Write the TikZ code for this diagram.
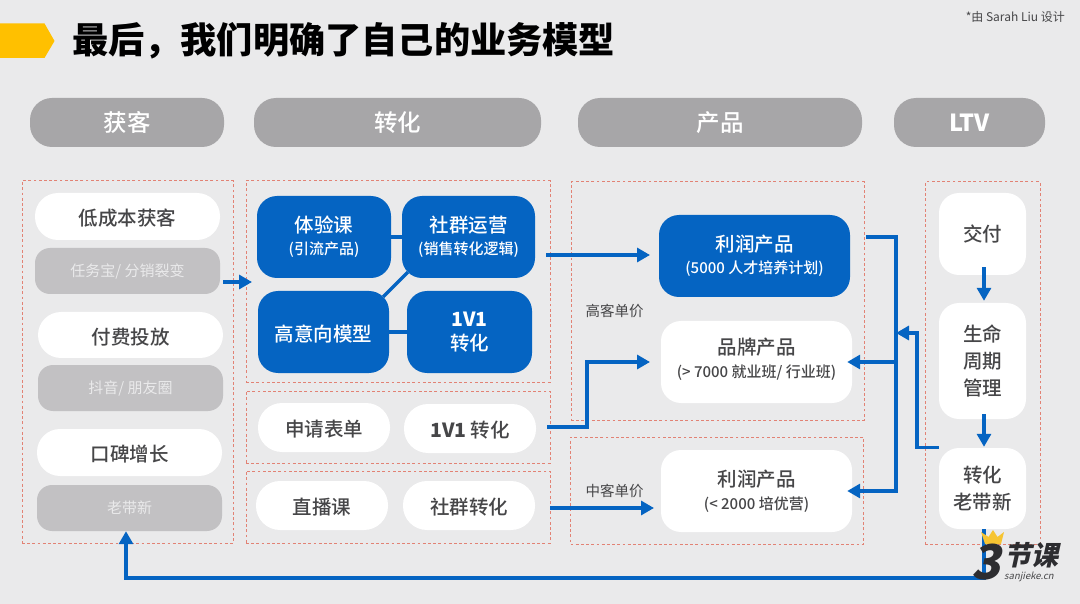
\documentclass[tikz,border=0pt]{standalone}
\usepackage{fontspec}
\setmainfont{Noto Sans CJK SC}
\newfontfamily\medfont{Noto Sans CJK SC Medium}
\newfontfamily\logofont[FakeSlant=0.22]{Noto Sans CJK SC Black}
\newfontfamily\urlfont[FakeSlant=0.22]{Noto Sans CJK SC}
\usetikzlibrary{arrows.meta}
\definecolor{pagegrey}{RGB}{234,234,235}
\definecolor{pillgrey}{RGB}{167,166,168}
\definecolor{softgrey}{RGB}{194,193,195}
\definecolor{planblue}{RGB}{5,100,194}
\definecolor{framered}{RGB}{226,130,116}
\definecolor{inkgrey}{RGB}{70,70,72}
\definecolor{markyellow}{RGB}{255,192,0}
\definecolor{crownyellow}{RGB}{246,196,50}
\definecolor{logoink}{RGB}{45,45,48}
\newcommand{\subline}[1]{{\fontsize{15}{20}\selectfont #1}}
\newcommand{\latinbold}[1]{{\normalfont\bfseries #1}}
\tikzset{
    headpill/.style={
        fill=pillgrey,rounded corners=22pt,inner sep=0pt,minimum height=49pt,
        text=white,font=\fontsize{23.5}{28}\medfont
    },
    groupframe/.style={
        draw=framered,line width=1pt,dash pattern=on 2.8pt off 2.4pt,
        inner sep=0pt
    },
    bluebox/.style={
        fill=planblue,rounded corners=20pt,inner sep=0pt,align=center,
        text=white,font=\fontsize{19.5}{24}\medfont,
        execute at begin node=\vspace*{3pt}
    },
    whitebox/.style={
        fill=white,rounded corners=20pt,inner sep=0pt,align=center,
        text=inkgrey,font=\fontsize{19.5}{27}\medfont,
        execute at begin node=\vspace*{3pt}
    },
    oneline/.style={
        text height=20.5pt
    },
    softbox/.style={
        fill=softgrey,rounded corners=15pt,inner sep=0pt,minimum width=185pt,minimum height=46pt,
        text=pagegrey,font=\fontsize{15}{18}\selectfont
    },
    flow/.style={
        -{Triangle[length=13pt,width=14pt]},line width=3.2pt,draw=planblue
    },
    tie/.style={
        line width=3.2pt,draw=planblue
    },
    priceline/.style={
        text=inkgrey,inner sep=0pt,font=\fontsize{14.5}{18}\selectfont
    }
}

\begin{document}
\begin{tikzpicture}[x=1pt,y=-1pt]

\fill[pagegrey] (0,0) rectangle (1080,604);

\fill[markyellow] (0,23.5)--(44.5,23.5)--(54.5,41)--(44.5,58)--(0,58)--cycle;
\node[anchor=west,inner sep=0pt,font=\fontsize{36.2}{40}\selectfont\bfseries,text=black]
(title) at (72,41) {最后，我们明确了自己的业务模型};
\node[anchor=east,inner sep=0pt,text=inkgrey,font=\fontsize{12}{14}\selectfont]
(credit) at (1065,17) {*由 Sarah Liu 设计};

\node[headpill,minimum width=194pt] (hacq) at (127,122.5) {获客};
\node[headpill,minimum width=287pt] (hconv) at (397.5,122.5) {转化};
\node[headpill,minimum width=284pt] (hprod) at (720,122.5) {产品};
\node[headpill,minimum width=151pt] (hltv) at (969.5,122.5) {\latinbold{LTV}};

\node[groupframe,minimum width=211pt,minimum height=362pt] (facq) at (127.5,362) {};
\node[groupframe,minimum width=304pt,minimum height=201pt] (fmain) at (398,281.5) {};
\node[groupframe,minimum width=304pt,minimum height=72pt] (fapply) at (398,427) {};
\node[groupframe,minimum width=304pt,minimum height=72pt] (flive) at (398,507) {};
\node[groupframe,minimum width=293pt,minimum height=238pt] (fhigh) at (717.5,301) {};
\node[groupframe,minimum width=293pt,minimum height=107pt] (fmid) at (717,490.5) {};
\node[groupframe,minimum width=115pt,minimum height=362pt] (fltv) at (982.5,363) {};

\node[whitebox,oneline,rounded corners=23pt,minimum width=185pt,minimum height=47pt] (lowcost) at (127.5,216.5) {低成本获客};
\node[softbox] (lowsub) at (127.5,271) {任务宝/ 分销裂变};
\node[whitebox,oneline,rounded corners=23pt,minimum width=185pt,minimum height=46pt] (paid) at (130.5,335) {付费投放};
\node[softbox] (paidsub) at (130.5,388) {抖音/ 朋友圈};
\node[whitebox,oneline,rounded corners=23pt,minimum width=185pt,minimum height=47pt] (word) at (129.5,452.5) {口碑增长};
\node[softbox] (wordsub) at (129.5,508) {老带新};

\node[bluebox,minimum width=134pt,minimum height=82pt] (trial) at (324,237) {体验课\\[-2pt]\subline{(引流产品)}};
\node[bluebox,minimum width=133pt,minimum height=82pt] (community) at (468.5,237) {社群运营\\[-2pt]\subline{(销售转化逻辑)}};
\node[bluebox,oneline,minimum width=131pt,minimum height=82pt] (model) at (323.5,332) {高意向模型};
\node[bluebox,minimum width=125pt,minimum height=82pt] (oneone) at (469.5,332) {\latinbold{1V1}\\转化};

\node[whitebox,oneline,rounded corners=24pt,minimum width=132pt,minimum height=49pt] (form) at (324,427.5) {申请表单};
\node[whitebox,oneline,rounded corners=24pt,minimum width=132pt,minimum height=49pt] (oneconv) at (470,428.5) {\latinbold{1V1} 转化};
\node[whitebox,oneline,rounded corners=24pt,minimum width=132pt,minimum height=49pt] (live) at (322,505.5) {直播课};
\node[whitebox,oneline,rounded corners=24pt,minimum width=132pt,minimum height=49pt] (groupconv) at (469,505.5) {社群转化};

\node[bluebox,minimum width=191pt,minimum height=82pt] (talent) at (754.5,256) {利润产品\\[-2pt]\subline{(5000 人才培养计划)}};
\node[whitebox,text depth=9pt,minimum width=191pt,minimum height=82pt] (brand) at (756.5,362) {品牌产品\\[-4pt]\subline{(> 7000 就业班/ 行业班)}};
\node[whitebox,minimum width=191pt,minimum height=82pt] (camp) at (756.5,491) {利润产品\\[-4pt]\subline{(< 2000 培优营)}};

\node[priceline] (high) at (614.5,311) {高客单价};
\node[priceline] (mid) at (614.5,491) {中客单价};

\node[whitebox,minimum width=87pt,minimum height=82pt] (deliver) at (982.5,234) {交付};
\node[whitebox,minimum width=87pt,minimum height=116pt] (cycle) at (982.5,361) {生命\\周期\\管理};
\node[whitebox,minimum width=87pt,minimum height=81pt] (refer) at (982.5,488.5) {转化\\老带新};

\draw[tie] (trial) -- (community);
\draw[tie] (model) -- (oneone);
\draw[tie] ([shift={(6,-6)}]community.south west) -- ([shift={(-6,6)}]model.north east);

\coordinate (acqout) at (223,282);
\coordinate (convin) at (252,282);
\coordinate (commout) at (546,255);
\coordinate (talentin) at (650,255);
\coordinate (formout) at (547,427);
\coordinate (formbend) at (587,362);
\coordinate (brandin) at (650,362);
\coordinate (liveout) at (550,508);
\coordinate (campin) at (654,508);
\coordinate (busout) at (866,237);
\coordinate (busend) at (896,491);
\coordinate (busbrand) at (896,362);
\coordinate (referbend) at (917,333);
\coordinate (busin) at (896,333);
\coordinate (backbend) at (126,578);

\draw[flow] (acqout) -- (convin);
\draw[flow] (commout) -- (talentin);
\draw[flow] (formout) -| (formbend) -- (brandin);
\draw[flow] (liveout) -- (campin);
\draw[flow] (busout) -| (busend) -- ([xshift=-5pt]camp.east);
\draw[flow] (busbrand) -- ([xshift=-5pt]brand.east);
\draw[flow] (refer.north west) -| (referbend) -- (busin);
\draw[flow] ([shift={(1.5,-8)}]deliver.south) -- ([shift={(1.5,-2)}]cycle.north);
\draw[flow] ([shift={(1.5,-5)}]cycle.south) -- ([shift={(1.5,-1)}]refer.north);
\draw[flow] ([xshift=1.5pt]refer.south) |- (backbend) -- ([xshift=-3.5pt]wordsub.south);

\fill[crownyellow] (985,544)--(981,532)--(988.5,537)--(993,530)--(997.5,537)--(1004,532)--(1001,544)--cycle;
\node[anchor=west,inner sep=0pt,text=logoink,font=\fontsize{48}{48}\logofont]
(logothree) at (971,562) {3};
\node[anchor=west,inner sep=0pt,text=logoink,font=\fontsize{27}{27}\logofont]
(logoname) at (1004,555) {节课};
\node[anchor=west,inner sep=0pt,text=inkgrey,font=\fontsize{9.5}{11}\urlfont]
(logourl) at (1004,576.5) {sanjieke.cn};

\end{tikzpicture}
\end{document}
